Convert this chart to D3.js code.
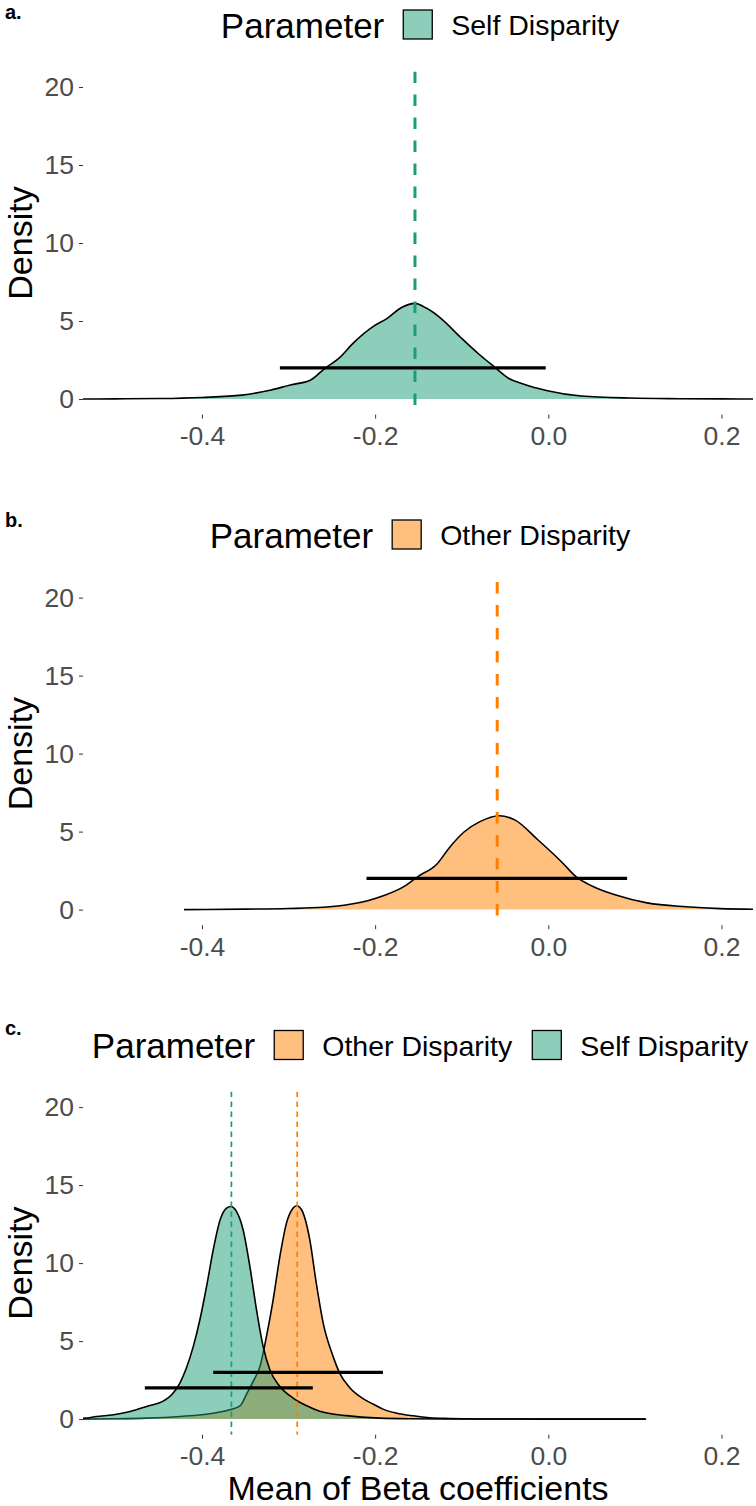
<!DOCTYPE html>
<html><head><meta charset="utf-8">
<script src="https://cdn.jsdelivr.net/npm/d3@7"></script>
<style>
body{margin:0;background:#fff;}
text{font-family:"Liberation Sans",Arial,Helvetica,sans-serif;}
</style>
</head><body>
<svg id="chart" width="756" height="1506"></svg>
<script>
// ---------------- DATA ----------------
const seriesNames = ["Other Disparity", "Self Disparity"];
const xTicks = [-0.4, -0.2, 0.0, 0.2];
const xTickLabels = ["-0.4", "-0.2", "0.0", "0.2"];
const yTicks = [0, 5, 10, 15, 20];
const yTickLabels = ["0", "5", "10", "15", "20"];
const xLimits = [-0.5374, 0.2364];
const yLimits = [-1, 21];

// Panel a: Self Disparity density
const selfA_x = [-0.54, -0.50, -0.45, -0.40, -0.354, -0.32, -0.298, -0.275, -0.258, -0.242, -0.225, -0.2025, -0.186, -0.169, -0.154, -0.141, -0.124, -0.102, -0.079, -0.061, -0.046, -0.029, -0.001, 0.038, 0.094, 0.15, 0.20, 0.24];
const selfA_y = [0.0, 0.01, 0.03, 0.1, 0.25, 0.58, 0.9, 1.2, 1.97, 2.6, 3.6, 4.64, 5.17, 5.88, 6.13, 5.83, 5.17, 3.99, 2.82, 2.0, 1.33, 0.96, 0.53, 0.19, 0.06, 0.02, 0.005, 0.0];
const selfA_mean = -0.154;
const selfA_interval = [-0.31, -0.003];
const selfA_barDensity = 2;

// Panel b: Other Disparity density
const otherB_x = [-0.4207, -0.35, -0.30, -0.26, -0.236, -0.200, -0.164, -0.151, -0.128, -0.115, -0.097, -0.079, -0.0567, -0.0387, -0.0118, 0.0151, 0.033, 0.051, 0.078, 0.114, 0.159, 0.199, 0.24];
const otherB_y = [0.0, 0.03, 0.07, 0.15, 0.28, 0.71, 1.57, 2.1, 2.96, 3.92, 4.99, 5.64, 6.02, 5.75, 4.46, 3.07, 2.06, 1.5, 0.93, 0.43, 0.18, 0.06, 0.02];
const otherB_mean = -0.059;
const otherB_interval = [-0.21, 0.091];
const otherB_barDensity = 2;

// Panel c: both
const selfC_x = [-0.56, -0.535, -0.522, -0.502, -0.483, -0.464, -0.444, -0.435, -0.4255, -0.418, -0.41, -0.4024, -0.3947, -0.387, -0.379, -0.3716, -0.3667, -0.36, -0.3525, -0.3447, -0.337, -0.3294, -0.3216, -0.31, -0.2947, -0.279, -0.264, -0.233, -0.1947, -0.16, -0.12, -0.08, -0.04, 0.0, 0.05, 0.113];
const selfC_y = [0.03, 0.06, 0.17, 0.28, 0.49, 0.81, 1.18, 1.56, 2.31, 3.27, 4.66, 6.37, 8.5, 10.85, 12.78, 13.53, 13.63, 13.3, 12.14, 9.79, 7.0, 4.66, 3.16, 2.09, 1.35, 0.85, 0.5, 0.22, 0.06, 0.02, 0.008, 0.004, 0.002, 0.001, 0.0, 0.0];
const otherC_x = [-0.56, -0.502, -0.464, -0.4255, -0.387, -0.368, -0.356, -0.3485, -0.341, -0.333, -0.3255, -0.3178, -0.31, -0.3024, -0.2947, -0.2908, -0.285, -0.2755, -0.268, -0.26, -0.2486, -0.241, -0.229, -0.2136, -0.202, -0.191, -0.175, -0.156, -0.137, -0.114, -0.08, 0.0, 0.1115];
const otherC_y = [0.0, 0.02, 0.06, 0.17, 0.38, 0.6, 0.85, 1.6, 2.4, 3.38, 5.3, 7.65, 10.43, 12.56, 13.53, 13.68, 13.42, 11.5, 8.72, 6.15, 4.02, 2.95, 2.0, 1.3, 0.95, 0.64, 0.38, 0.21, 0.09, 0.04, 0.01, 0.002, 0.0];
const selfC_mean = -0.366;
const selfC_interval = [-0.466, -0.272];
const selfC_barDensity = 2;
const otherC_mean = -0.290;
const otherC_interval = [-0.387, -0.191];
const otherC_barDensity = 3;

// ---------------- STYLE ----------------
const fillColor = {"Other Disparity": "#ff7f00", "Self Disparity": "#1b9e77"};
const FONT_TITLE = 34, FONT_TICK = 26.5, FONT_LEGEND = 28.5, FONT_TAG = 20;
const plotLeft = 83, plotRight = 753, plotH = 343.2;

const svg = d3.select("#chart");
const x = d3.scaleLinear().domain(xLimits).range([plotLeft, plotRight]);

const panels = [
  {tag: "a.", top: 71.4, tagY: 18.5, legendY: 24.5, legend: ["Self Disparity"], dash: "11.5,11.5", dashW: 3,
   series: [{name: "Self Disparity", xs: selfA_x, ys: selfA_y, mean: selfA_mean, ci: selfA_interval, bar: selfA_barDensity}], xTitle: false},
  {tag: "b.", top: 582, tagY: 527, legendY: 534.5, legend: ["Other Disparity"], dash: "11.5,11.5", dashW: 3,
   series: [{name: "Other Disparity", xs: otherB_x, ys: otherB_y, mean: otherB_mean, ci: otherB_interval, bar: otherB_barDensity}], xTitle: false},
  {tag: "c.", top: 1091.5, tagY: 1035, legendY: 1045, legend: ["Other Disparity", "Self Disparity"], dash: "5.5,4.5", dashW: 1.7,
   series: [
     {name: "Other Disparity", xs: otherC_x, ys: otherC_y, mean: otherC_mean, ci: otherC_interval, bar: otherC_barDensity},
     {name: "Self Disparity", xs: selfC_x, ys: selfC_y, mean: selfC_mean, ci: selfC_interval, bar: selfC_barDensity}
   ], xTitle: true}
];

panels.forEach((p, pi) => {
  const y = d3.scaleLinear().domain(yLimits).range([p.top + plotH, p.top]);
  const g = svg.append("g");
  const clipId = "clip" + pi;
  svg.append("clipPath").attr("id", clipId).append("rect")
    .attr("x", plotLeft).attr("y", p.top).attr("width", plotRight - plotLeft).attr("height", plotH);
  const body = g.append("g").attr("clip-path", `url(#${clipId})`);

  const area = d3.area().x(d => x(d[0])).y0(y(0)).y1(d => y(d[1])).curve(d3.curveMonotoneX);
  const line = d3.line().x(d => x(d[0])).y(d => y(d[1])).curve(d3.curveMonotoneX);

  p.series.forEach(s => {
    const pts = s.xs.map((v, i) => [v, s.ys[i]]);
    body.append("path").datum(pts).attr("d", area)
      .attr("fill", fillColor[s.name]).attr("fill-opacity", 0.5);
    body.append("path").datum(pts).attr("d", line)
      .attr("fill", "none").attr("stroke", "#000").attr("stroke-width", 1.6);
  });
  p.series.forEach(s => {
    body.append("line").attr("x1", x(s.mean)).attr("x2", x(s.mean))
      .attr("y1", p.top).attr("y2", p.top + plotH)
      .attr("stroke", fillColor[s.name]).attr("stroke-width", p.dashW)
      .attr("stroke-dasharray", p.dash);
  });
  p.series.forEach(s => {
    body.append("line").attr("x1", x(s.ci[0])).attr("x2", x(s.ci[1]))
      .attr("y1", y(s.bar)).attr("y2", y(s.bar))
      .attr("stroke", "#000").attr("stroke-width", 3.2);
  });

  // axes
  const xa = g.append("g").attr("transform", `translate(0,${p.top + plotH})`)
    .call(d3.axisBottom(x).tickValues(xTicks).tickFormat((d, i) => xTickLabels[i]).tickSize(4).tickPadding(7.5));
  xa.select(".domain").remove();
  xa.selectAll("line").attr("stroke", "#333").attr("stroke-width", 1);
  xa.selectAll("text").attr("fill", "#4d4d4d").style("font-size", FONT_TICK + "px")
    .style("font-family", '"Liberation Sans",Arial,sans-serif');

  const ya = g.append("g").attr("transform", `translate(${plotLeft},0)`)
    .call(d3.axisLeft(y).tickValues(yTicks).tickFormat((d, i) => yTickLabels[i]).tickSize(4).tickPadding(5));
  ya.select(".domain").remove();
  ya.selectAll("line").attr("stroke", "#333").attr("stroke-width", 1);
  ya.selectAll("text").attr("fill", "#4d4d4d").style("font-size", FONT_TICK + "px")
    .style("font-family", '"Liberation Sans",Arial,sans-serif');

  // y title
  g.append("text").attr("transform", `translate(32,${p.top + plotH / 2}) rotate(-90)`)
    .attr("text-anchor", "middle").style("font-size", FONT_TITLE + "px").attr("fill", "#000").text("Density");

  // tag
  g.append("text").attr("x", 5).attr("y", p.tagY).style("font-size", FONT_TAG + "px")
    .style("font-weight", "bold").attr("fill", "#000").text(p.tag);

  // legend
  const lg = g.append("g");
  let cx = 0;
  const t0 = lg.append("text").attr("x", cx).attr("y", p.legendY + 13)
    .style("font-size", (FONT_TITLE + 1) + "px").attr("fill", "#000").text("Parameter");
  cx += t0.node().getComputedTextLength() + 19;
  p.legend.forEach((name, i) => {
    lg.append("rect").attr("x", cx).attr("y", p.legendY - 14.5).attr("width", 29).attr("height", 29)
      .attr("fill", fillColor[name]).attr("fill-opacity", 0.5).attr("stroke", "#000").attr("stroke-width", 1.3);
    cx += 29 + 19;
    const t = lg.append("text").attr("x", cx).attr("y", p.legendY + 10.5)
      .style("font-size", FONT_LEGEND + "px").attr("fill", "#000").text(name);
    cx += t.node().getComputedTextLength();
    if (i < p.legend.length - 1) cx += 20;
  });
  lg.attr("transform", `translate(${420 - cx / 2},0)`);

  if (p.xTitle) {
    g.append("text").attr("x", (plotLeft + plotRight) / 2).attr("y", 1500)
      .attr("text-anchor", "middle").style("font-size", FONT_TITLE + "px").attr("fill", "#000")
      .text("Mean of Beta coefficients");
  }
});
</script>
</body></html>
